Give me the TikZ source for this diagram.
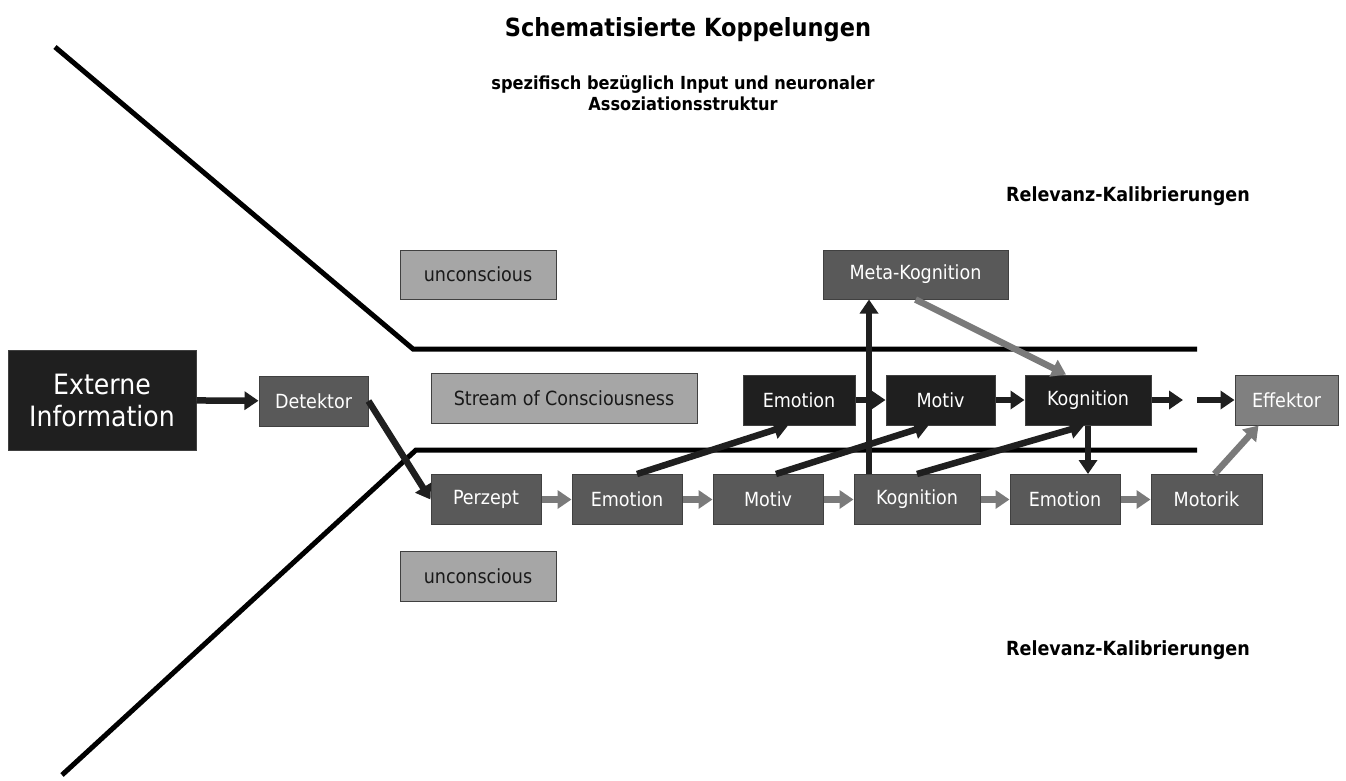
\documentclass[tikz,border=0pt]{standalone}
\usepackage{fontspec}
\setmainfont{DejaVu Sans Condensed}
\usetikzlibrary{arrows.meta}
\begin{document}
\begin{tikzpicture}[
        x=1pt, y=-1pt,
        box/.style={rectangle, draw=black!75, line width=1pt, inner sep=0pt, minimum height=50pt, font=\fontsize{19.5}{22}\selectfont},
        darkbox/.style={box, fill=black!65, text=white},
        blackbox/.style={box, fill=black!88, text=white},
        lightbox/.style={box, fill=black!35, text=black!90},
        arrow/.style={-{Triangle[width=18pt,length=14pt]}, line width=6.5pt, black!88},
        grayarrow/.style={arrow, black!52},
        border/.style={line width=5pt, black},
        heading/.style={font=\bfseries\fontsize{18}{21}\selectfont, align=center}
    ]
\useasboundingbox (0,0) rectangle (1346,780);

% Titles
        \node[font=\bfseries\fontsize{25}{28}\selectfont] (title) at (688,30) {Schematisierte Koppelungen};
        \node[heading] (sub) at (683,93) {spezifisch bezüglich Input und neuronaler\\Assoziationsstruktur};
        \node[heading, font=\bfseries\fontsize{19.5}{22}\selectfont] (relup) at (1128,196) {Relevanz-Kalibrierungen};
        \node[heading, font=\bfseries\fontsize{19.5}{22}\selectfont] (reldown) at (1128,650) {Relevanz-Kalibrierungen};

% Borders of the stream
        \draw[border] (55,47) -- (413,349) -- (1197,349);
        \draw[border] (62,775) -- (416,450) -- (1197,450);

% Left part
        \node[blackbox, minimum width=188pt, minimum height=100pt, align=center, font=\fontsize{28}{32}\selectfont] (ext) at (102,400) {Externe\\Information};
        \node[darkbox, minimum width=109pt] (det) at (313.5,401) {Detektor};

% Labels
        \node[lightbox, minimum width=156pt, minimum height=49pt] (uncup) at (478,274.5) {unconscious};
        \node[lightbox, minimum width=266pt] (stream) at (564,398.5) {Stream of Consciousness};
        \node[lightbox, minimum width=156pt] (uncdown) at (478,576) {unconscious};

% Upper row
        \node[darkbox, minimum width=185pt, minimum height=49pt] (meta) at (915.5,274.5) {Meta-Kognition};
        \node[blackbox, minimum width=112pt] (emoup) at (799,400) {Emotion};
        \node[blackbox, minimum width=109pt] (motup) at (940.5,400) {Motiv};
        \node[blackbox, minimum width=126pt] (kogup) at (1088,400) {Kognition};
        \node[box, fill=black!50, text=white, minimum width=103pt] (eff) at (1286.5,400) {Effektor};

% Lower row
        \node[darkbox, minimum width=110pt] (per) at (486,499.5) {Perzept};
        \node[darkbox, minimum width=110pt] (emodown) at (627,499.5) {Emotion};
        \node[darkbox, minimum width=110pt] (motdown) at (768,499.5) {Motiv};
        \node[darkbox, minimum width=126pt] (kogdown) at (917,499.5) {Kognition};
        \node[darkbox, minimum width=110pt] (emoend) at (1065,499.5) {Emotion};
        \node[darkbox, minimum width=111pt] (moto) at (1206.5,499.5) {Motorik};

        \coordinate (gapA) at (1183,400);
        \coordinate (gapB) at (1197,400);

% Arrows
        \draw[arrow] (ext) -- (det);
        \draw[arrow] (det.east) -- (per.west);
        \foreach \a/\b in {per/emodown, emodown/motdown, motdown/kogdown, kogdown/emoend, emoend/moto}
            \draw[grayarrow] (\a) -- (\b);
        \draw[arrow] (emoup) -- (motup);
        \draw[arrow] (motup) -- (kogup);
        \draw[arrow] (kogup) -- (gapA);
        \draw[arrow] (gapB) -- (eff);
        \draw[arrow] ([xshift=10pt]emodown.north) -- ([xshift=-11pt]emoup.south);
        \draw[arrow] ([xshift=8pt]motdown.north) -- ([xshift=-12pt]motup.south);
        \draw[arrow] (kogdown.north) -- ([xshift=-4pt]kogup.south);
        \draw[arrow] ([xshift=-48pt]kogdown.north) -- ([xshift=-48pt]kogdown.north |- meta.south);
        \draw[grayarrow] (meta.south) -- ([xshift=-22pt]kogup.north);
        \draw[arrow] (kogup.south) -- (kogup.south |- emoend.north);
        \draw[grayarrow] ([xshift=8pt]moto.north) -- ([xshift=-28pt]eff.south);
\end{tikzpicture}
\end{document}
